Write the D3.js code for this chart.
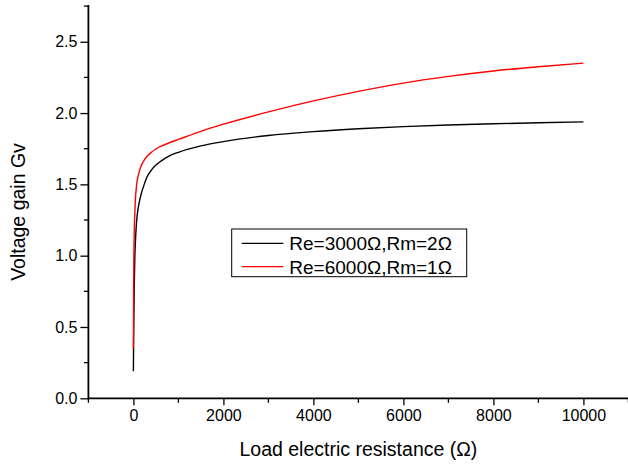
<!DOCTYPE html>
<html>
<head>
<meta charset="utf-8">
<script src="https://cdn.jsdelivr.net/npm/d3@7"></script>
<style>
  body { margin: 0; background: #fff; }
  svg { display: block; font-family: "Liberation Sans", Arial, sans-serif; }
</style>
</head>
<body>
<div id="chart"></div>
<script>
// load resistance (ohm)
var loadR = [0, 5, 10, 20, 30, 45, 60, 80, 110, 140, 180, 240, 300, 400, 500, 620, 800,
  1000, 1500, 2000, 3000, 4000, 5000, 6000, 7000, 8000, 9000, 10000];
// Re=3000, Rm=2
var gainA = [0.19, 0.40, 0.55, 0.80, 0.97, 1.10, 1.19, 1.27, 1.34, 1.39, 1.44, 1.50, 1.55, 1.60, 1.635, 1.665, 1.70,
  1.725, 1.77, 1.80, 1.843, 1.87, 1.89, 1.905, 1.916, 1.925, 1.932, 1.938];
// Re=6000, Rm=1
var gainB = [0.35, 0.75, 0.98, 1.18, 1.28, 1.40, 1.46, 1.52, 1.565, 1.60, 1.635, 1.67, 1.695, 1.725, 1.748, 1.768, 1.792,
  1.815, 1.872, 1.922, 2.008, 2.085, 2.152, 2.21, 2.257, 2.295, 2.325, 2.35];
var seriesNames = ["Re=3000\u03A9,Rm=2\u03A9", "Re=6000\u03A9,Rm=1\u03A9"];
var seriesColors = ["#000000", "#ff0000"];
var xMajor = [0, 2000, 4000, 6000, 8000, 10000];
var yMajor = [0, 0.5, 1.0, 1.5, 2.0, 2.5];

var width = 628, height = 464;

var x = d3.scaleLinear().domain([-1000, 11000]).range([88.4, 628.4]);
var y = d3.scaleLinear().domain([0, 2.75]).range([398.3, 6.1]);

var svg = d3.select('#chart')
  .append('svg')
  .attr('width', width)
  .attr('height', height);

// axes
var xMinor = d3.range(-1000, 11001, 1000).filter(function(d) { return xMajor.indexOf(d) < 0; });
var yMinor = d3.range(0.25, 2.76, 0.5);

var xAxis = svg.append('g').attr('transform', 'translate(0,' + y(0) + ')');
xAxis.call(d3.axisBottom(x).tickValues(xMajor).tickSize(7).tickPadding(4).tickFormat(d3.format('d')));
xAxis.selectAll('line.minor')
  .data(xMinor)
  .enter().append('line')
  .attr('class', 'minor')
  .attr('x1', function(d) { return x(d); })
  .attr('x2', function(d) { return x(d); })
  .attr('y1', 0).attr('y2', 4.5)
  .attr('stroke', '#000').attr('stroke-width', 1.3);

var yAxis = svg.append('g').attr('transform', 'translate(' + x(-1000) + ',0)');
yAxis.call(d3.axisLeft(y).tickValues(yMajor).tickSize(8).tickPadding(3).tickFormat(d3.format('.1f')));
yAxis.selectAll('line.minor')
  .data(yMinor)
  .enter().append('line')
  .attr('class', 'minor')
  .attr('y1', function(d) { return y(d); })
  .attr('y2', function(d) { return y(d); })
  .attr('x1', 0).attr('x2', -4.5)
  .attr('stroke', '#000').attr('stroke-width', 1.3);

svg.selectAll('.domain').remove();
svg.selectAll('.tick line').attr('stroke', '#000').attr('stroke-width', 1.3);
svg.selectAll('.tick text').attr('fill', '#000').style('font-size', '16px').style('font-family', '"Liberation Sans", Arial, sans-serif');

// axis lines
svg.append('line')
  .attr('x1', x(-1000)).attr('x2', x(-1000))
  .attr('y1', y(2.75) - 1).attr('y2', y(0) + 1)
  .attr('stroke', '#000').attr('stroke-width', 1.8);
svg.append('line')
  .attr('x1', x(-1000)).attr('x2', width)
  .attr('y1', y(0)).attr('y2', y(0))
  .attr('stroke', '#000').attr('stroke-width', 1.8);

// curves
var line = d3.line()
  .x(function(d) { return x(d[0]); })
  .y(function(d) { return y(d[1]); })
  .curve(d3.curveMonotoneX);

[gainA, gainB].forEach(function(g, i) {
  svg.append('path')
    .datum(loadR.map(function(r, k) { return [r, g[k]]; }))
    .attr('d', line)
    .attr('fill', 'none')
    .attr('stroke', seriesColors[i])
    .attr('stroke-width', 1.4);
});

// titles
svg.append('text')
  .attr('x', x(5000))
  .attr('y', 456)
  .attr('text-anchor', 'middle')
  .style('font-size', '19.5px')
  .text('Load electric resistance (\u03A9)');

svg.append('text')
  .attr('transform', 'translate(24.5,212) rotate(-90)')
  .attr('text-anchor', 'middle')
  .style('font-size', '19.5px')
  .text('Voltage gain Gv');

// legend
var legend = svg.append('g');
legend.append('rect')
  .attr('x', 231.7).attr('y', 229)
  .attr('width', 235).attr('height', 47.7)
  .attr('fill', '#fff').attr('stroke', '#000').attr('stroke-width', 1);

var item = legend.selectAll('.item')
  .data(seriesNames)
  .enter().append('g')
  .attr('transform', function(d, i) { return 'translate(0,' + (243.3 + i * 23.4) + ')'; });
item.append('line')
  .attr('x1', 241.7).attr('x2', 283.3)
  .attr('stroke', function(d, i) { return seriesColors[i]; })
  .attr('stroke-width', 1.3);
item.append('text')
  .attr('x', 289.3).attr('y', 7)
  .style('font-size', '19px')
  .text(function(d) { return d; });
</script>
</body>
</html>
